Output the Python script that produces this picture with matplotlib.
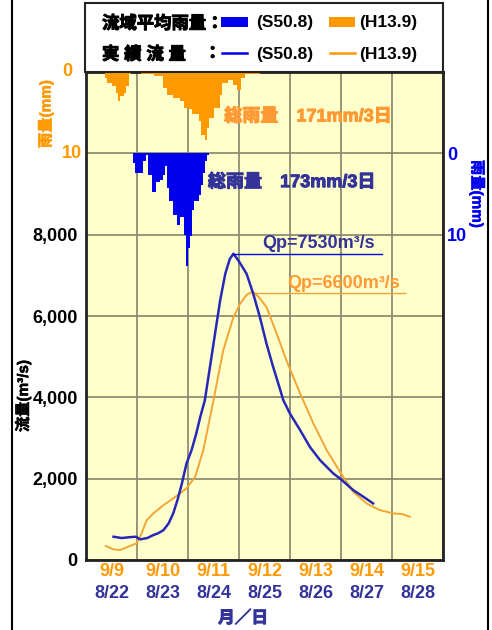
import numpy as np
import matplotlib
matplotlib.use("Agg")
import matplotlib.pyplot as plt
import matplotlib.patheffects as pe
from matplotlib.lines import Line2D
from matplotlib.patches import Rectangle

plt.rcParams['font.family'] = ['Liberation Sans', 'Noto Sans CJK JP', 'DejaVu Sans']
plt.rcParams['font.weight'] = 'bold'

# === DATOS ===
# dias (0 = 9/9 | 8/22)
day_labels_h13 = ['9/9', '9/10', '9/11', '9/12', '9/13', '9/14', '9/15']
day_labels_s50 = ['8/22', '8/23', '8/24', '8/25', '8/26', '8/27', '8/28']

# caudal S50.8 (m3/s)
s50_t = [0.54, 0.70, 0.85, 0.98, 1.06, 1.20, 1.32, 1.42, 1.52, 1.62, 1.71, 1.80,
         1.88, 1.97, 2.07, 2.16, 2.24, 2.33, 2.43, 2.53, 2.63, 2.73, 2.82, 2.89,
         2.99, 3.07, 3.15, 3.28, 3.41, 3.54, 3.67, 3.78, 3.87, 4.00, 4.20, 4.39,
         4.59, 4.85, 4.98, 5.24, 5.44, 5.63]
s50_q = [572, 540, 560, 572, 507, 540, 613, 660, 736, 900, 1145, 1500,
         1880, 2370, 2700, 3100, 3517, 3926, 4744, 5563, 6380, 7035, 7403, 7530,
         7362, 7200, 7035, 6544, 5971, 5317, 4744, 4300, 3926, 3599, 3190, 2781,
         2454, 2127, 2004, 1718, 1554, 1391]

# caudal H13.9 (m3/s)
h13_t = [0.39, 0.54, 0.67, 0.86, 0.99, 1.09, 1.19, 1.32, 1.52, 1.71, 1.97, 2.14,
         2.30, 2.50, 2.69, 2.89, 3.02, 3.15, 3.27, 3.40, 3.54, 3.74, 3.93, 4.20,
         4.46, 4.72, 4.98, 5.24, 5.50, 5.76, 6.03, 6.20, 6.35]
h13_q = [344, 262, 245, 344, 409, 654, 982, 1145, 1350, 1513, 1759, 2045,
         2700, 3926, 5153, 5971, 6299, 6520, 6600, 6450, 6217, 5563, 4908, 4090,
         3354, 2700, 2168, 1677, 1391, 1227, 1145, 1130, 1063]

# lluvia horaria (mm), hora de inicio
h13_rain_start = 9
h13_rain = [0.7, 1.35, 1.35, 1.75, 1.75, 2.6, 3.6, 3.0, 3.0, 2.6, 1.75, 0.3,
            0, 0, 0, 0, 0,
            0.3, 0.3, 0.3, 0.3, 0.3, 0.3,
            0.5, 0.5, 0.5, 0.5,
            2.0, 2.0, 2.8, 2.8, 2.8, 3.2, 3.2, 3.2, 3.6, 3.6, 4.4, 4.4, 4.6, 4.6,
            5.2, 5.2, 5.2, 6.0, 7.7, 7.7, 8.3, 6.9, 5.6, 5.6, 4.4, 4.4, 4.4, 2.8,
            1.35, 1.35, 1.35, 1.0, 1.0, 1.55, 1.55, 2.2, 2.2, 0.7, 0.7,
            0.3, 0.3, 0.3, 0.3, 0.3, 0.3, 0.3, 0.1, 0.1, 0.1]
s50_rain_start = 22
s50_rain = [1.2, 2.45, 2.45, 2.45, 2.45, 1.0, 0.2, 2.65, 2.65, 4.7, 4.7, 3.5,
            3.5, 3.3, 2.65, 1.6, 4.3, 5.9, 5.9, 7.6, 7.6, 8.8, 7.8, 7.8,
            10.0, 13.9, 11.7, 10.2, 7.0, 5.9, 5.9, 5.1, 3.9, 2.45, 1.0, 0.2]

h13_total = '総雨量\u3000171mm/3日'
s50_total = '総雨量\u3000173mm/3日'
s50_qp = 'Qp=7530m³/s'
h13_qp = 'Qp=6600m³/s'

flow_ticks = [0, 2000, 4000, 6000, 8000]
rain_ticks = [0, 10]

# === ESTILO ===
ORANGE = '#FF9900'
ORANGE_LINE = '#F2A535'
ORANGE_TXT = '#FF9933'
BLUE = '#0000EE'
BLUE_LINE = '#2828B8'
NAVY = '#333399'

W, H = 492, 630
def fx(x): return x / W
def fy(y): return 1 - y / H

def heavy(color, lw=0.7):
    # el CJK de Noto sale fino, se engorda con un trazo
    return [pe.withStroke(linewidth=lw, foreground=color)]

fig = plt.figure(figsize=(W / 100, H / 100), dpi=100)
ax = fig.add_axes([fx(86), fy(560), (443 - 86) / W, (560 - 72) / H])
ax.set_xlim(0, 7)
ax.set_ylim(0, 12000)
ax.set_facecolor('#FFFFCC')
ax.set_xticks(range(8))
ax.set_yticks(range(0, 12001, 2000))
ax.set_yticklabels([f'{v:,}' if v in flow_ticks else '' for v in range(0, 12001, 2000)],
                   fontsize=13, fontweight='bold')
ax.set_xticklabels([])
ax.tick_params(length=0)
ax.tick_params(axis='y', pad=6)
ax.grid(True, color='#85856A', lw=1.2)
ax.set_axisbelow(True)
for s in ax.spines.values():
    s.set_linewidth(2.0)
    s.set_color('#222222')

# caudales
ax.plot(h13_t, h13_q, color=ORANGE_LINE, lw=1.4, zorder=3)
ax.plot(s50_t, s50_q, color=BLUE_LINE, lw=1.8, zorder=4)

# picos
i_b = int(np.argmax(s50_q))
i_o = int(np.argmax(h13_q))
ax.plot([s50_t[i_b], 5.80], [s50_q[i_b], s50_q[i_b]], color=BLUE, lw=1.0, zorder=4)
ax.text(3.45, s50_q[i_b] + 40, s50_qp, color=NAVY, fontsize=13, fontweight='bold', va='bottom')
ax.plot([h13_t[i_o], 6.25], [h13_q[i_o] - 40, h13_q[i_o] - 40], color=ORANGE_LINE, lw=1.0, zorder=3)
ax.text(3.94, h13_q[i_o] - 20, h13_qp, color=ORANGE_TXT, fontsize=13, fontweight='bold', va='bottom')

# lluvia H13.9 (eje izquierdo, 0 arriba)
ax_o = ax.twinx()
ax_o.set_ylim(60, 0)
h13_edges = (h13_rain_start + np.arange(len(h13_rain) + 1)) / 24
ax_o.stairs(h13_rain, h13_edges, baseline=0, fill=True, color=ORANGE, lw=0)
ax_o.set_yticks([])
for s in ax_o.spines.values():
    s.set_visible(False)
for v in rain_ticks:
    ax_o.text(-24 / 357, v, str(v), transform=ax_o.get_yaxis_transform(), color=ORANGE,
              fontsize=13, fontweight='bold', ha='left', va='center')

# lluvia S50.8 (eje derecho, 0 en 10000)
ax_b = ax.twinx()
ax_b.set_ylim(50, -10)
s50_edges = (s50_rain_start + np.arange(len(s50_rain) + 1)) / 24
ax_b.stairs(s50_rain, s50_edges, baseline=0, fill=True, color=BLUE, lw=0)
ax_b.set_yticks(rain_ticks)
ax_b.set_yticklabels([str(v) for v in rain_ticks], color=BLUE, fontsize=13, fontweight='bold')
ax_b.tick_params(length=0, pad=3)
for s in ax_b.spines.values():
    s.set_visible(False)

ax.text(2.71, 10896, h13_total, color=ORANGE_TXT, fontsize=13, fontweight='bold', va='center',
        zorder=6, path_effects=heavy(ORANGE_TXT))
ax_b.text(2.39, 3.6, s50_total, color=NAVY, fontsize=13, fontweight='bold', va='center',
          path_effects=heavy(NAVY))

# etiquetas de fecha
xt = ax.get_xaxis_transform()
for i, (a, b) in enumerate(zip(day_labels_h13, day_labels_s50)):
    ax.text(i + 0.5, -0.024, a, transform=xt, color=ORANGE, fontsize=13, fontweight='bold',
            ha='center', va='center')
    ax.text(i + 0.5, -0.068, b, transform=xt, color=NAVY, fontsize=13, fontweight='bold',
            ha='center', va='center')
fig.text(fx(243), fy(618), '月／日', color=NAVY, fontsize=12, fontweight='bold', ha='center',
         va='center', path_effects=heavy(NAVY))

# titulos de ejes
fig.text(fx(46), fy(114), '雨量(mm)', color=ORANGE, fontsize=11, fontweight='bold',
         rotation=90, ha='center', va='center', path_effects=heavy(ORANGE, 0.35))
fig.text(fx(477), fy(194), '雨量(mm)', color=BLUE, fontsize=11, fontweight='bold',
         rotation=270, ha='center', va='center', path_effects=heavy(BLUE, 0.35))
fig.text(fx(23), fy(396), '流量(m³/s)', color='black', fontsize=11, fontweight='bold',
         rotation=90, ha='center', va='center', path_effects=heavy('black', 0.35))

# leyenda
fig.patches.append(Rectangle((fx(85), fy(72)), (443 - 85) / W, (72 - 3) / H, transform=fig.transFigure,
                             facecolor='white', edgecolor='#222222', lw=1.5, zorder=0))
fig.text(fx(102), fy(23), '流域平均雨量：', fontsize=12.5, fontweight='bold', va='center',
         path_effects=heavy('black'))
fig.text(fx(102), fy(54), '実 績 流 量', fontsize=12.5, fontweight='bold', va='center',
         path_effects=heavy('black'))
fig.text(fx(204), fy(54), '：', fontsize=12.5, fontweight='bold', va='center',
         path_effects=heavy('black'))
fig.patches.append(Rectangle((fx(221), fy(27)), 27 / W, 10 / H, transform=fig.transFigure,
                             facecolor=BLUE, edgecolor='none'))
fig.patches.append(Rectangle((fx(329), fy(27)), 26 / W, 10 / H, transform=fig.transFigure,
                             facecolor=ORANGE, edgecolor='none'))
fig.add_artist(Line2D([fx(222), fx(247)], [fy(53), fy(53)], color=BLUE, lw=1.8))
fig.add_artist(Line2D([fx(330), fx(355)], [fy(53), fy(53)], color=ORANGE, lw=1.8))
for yy in (23, 54):
    fig.text(fx(256), fy(yy), '(S50.8)', fontsize=12.5, fontweight='bold', va='center')
    fig.text(fx(359), fy(yy), '(H13.9)', fontsize=12.5, fontweight='bold', va='center')

# bordes de la captura
fig.add_artist(Line2D([fx(12), fx(12)], [0, 1], color='black', lw=1.5))
fig.add_artist(Line2D([fx(488), fx(488)], [0, 1], color='black', lw=1.5))

fig.savefig('out.png', dpi=100)
